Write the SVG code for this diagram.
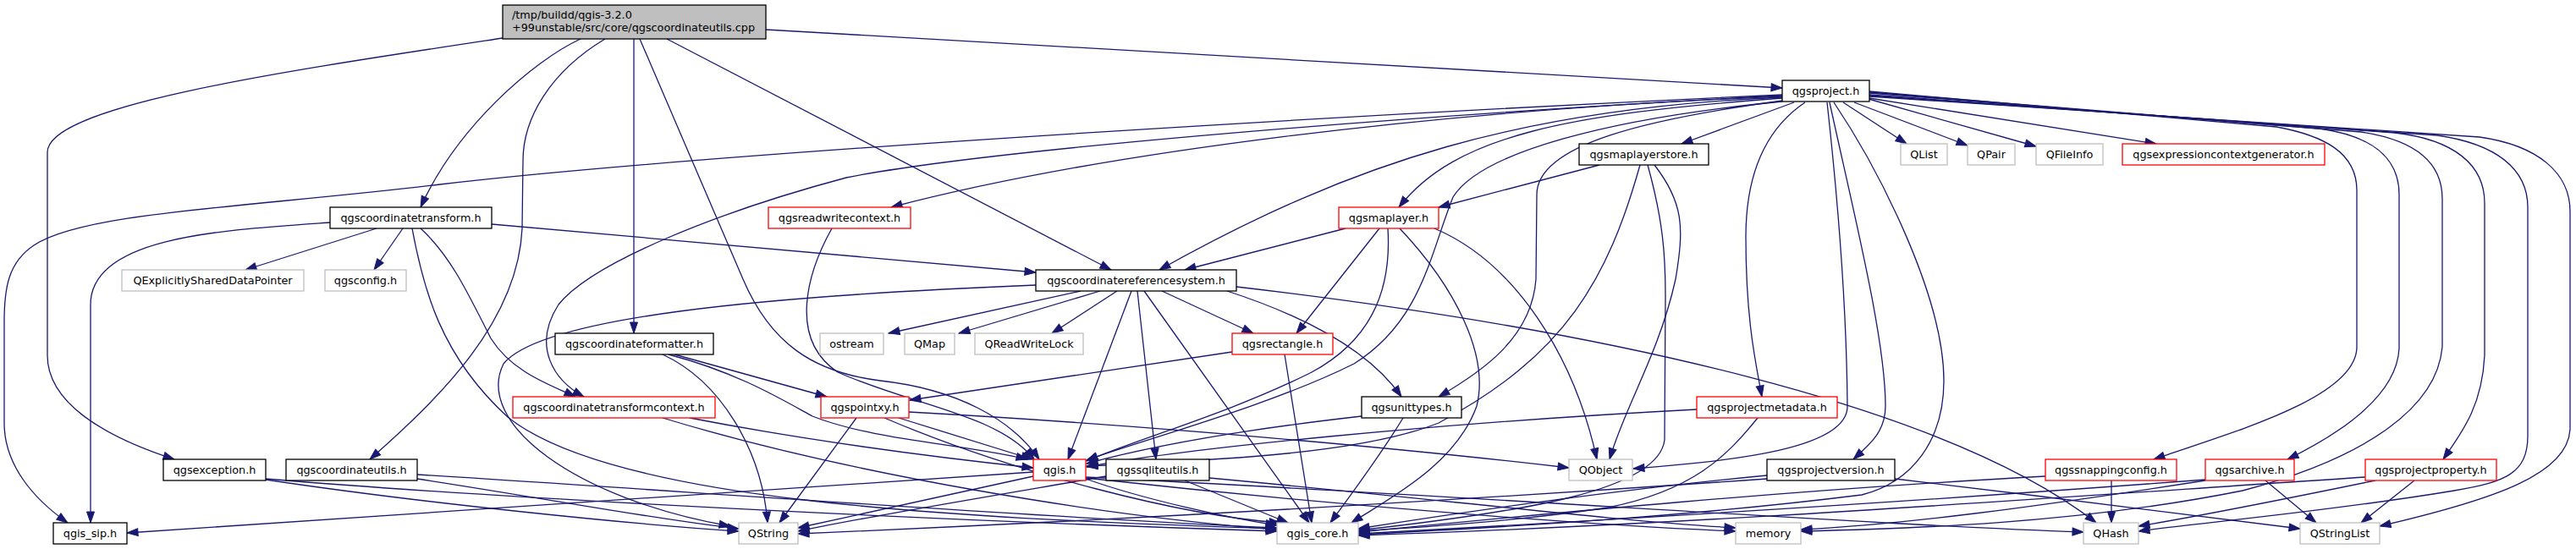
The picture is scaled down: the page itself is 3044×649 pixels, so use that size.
<svg xmlns="http://www.w3.org/2000/svg" width="3044" height="649" viewBox="0 0 3044 649">
<style>
rect{fill:#fff;stroke:#000;stroke-width:1.3}
.r rect{stroke:#ff0000}
.g rect{stroke:#bfbfbf}
#root rect{fill:#bfbfbf;stroke:#000}
text{font-family:"DejaVu Sans",sans-serif;font-size:12.8px;text-anchor:middle;fill:#000}
#root text{text-anchor:start}
#edges path{fill:none;stroke:#191970;stroke-width:1.3;marker-end:url(#ah)}
</style>
<defs>
<marker id="ah" viewBox="0 0 13 9" refX="13" refY="4.5" markerWidth="13" markerHeight="9" markerUnits="userSpaceOnUse" orient="auto" style="overflow:visible"><path d="M0,0L13,4.5L0,9z" fill="#191970" stroke="#191970" stroke-width="1"/></marker>
</defs>
<rect x="0" y="0" width="3044" height="649" style="fill:#fff;stroke:none"/>
<g id="edges">
<path d="M594,45 C330,85 56,125 56,180 L56,420 C56,475 120,515 206,543"/>
<path d="M686,46 C630,72 540,150 497,245"/>
<path d="M715,46 C650,85 618,140 618,190 L617,270 C612,380 520,470 437,543"/>
<path d="M749,46 L749,394"/>
<path d="M756,46 L878,330 C910,405 960,440 1040,450 C1130,460 1195,495 1228,543"/>
<path d="M788,46 L1313,319"/>
<path d="M905,35 L2106,104"/>
<path d="M445,270 L290,319"/>
<path d="M476,270 L442,319"/>
<path d="M390,263 C260,272 107,280 107,360 L107,618"/>
<path d="M487,270 C500,340 520,420 600,493 C720,590 1100,612 1509,625"/>
<path d="M497,270 C530,300 550,340 580,400 C605,440 650,455 680,469"/>
<path d="M581,265 L1224,322"/>
<path d="M493,561 C800,580 1200,610 1509,624"/>
<path d="M493,566 C650,590 780,615 873,625"/>
<path d="M314,567 C500,595 750,620 873,628"/>
<path d="M314,566 C600,590 1100,615 1509,628"/>
<path d="M797,419 L977,469"/>
<path d="M783,419 C850,450 900,530 907,618"/>
<path d="M790,419 C870,440 920,470 960,492 C1030,520 1140,525 1214,543"/>
<path d="M815,494 C950,520 1100,540 1221,553"/>
<path d="M783,494 C1000,560 1300,610 1509,626"/>
<path d="M1012,494 L921,618"/>
<path d="M1045,494 C1200,560 1400,610 1513,618"/>
<path d="M1062,494 L1220,543"/>
<path d="M1074,487 C1400,505 1700,535 1854,553"/>
<path d="M1277,344 L1050,394"/>
<path d="M1300,344 L1133,394"/>
<path d="M1320,344 L1243,394"/>
<path d="M1373,344 L1481,394"/>
<path d="M1337,344 L1262,543"/>
<path d="M1344,344 L1366,543"/>
<path d="M1352,344 L1547,618"/>
<path d="M1450,344 C1530,370 1615,410 1656,469"/>
<path d="M1461,339 C1900,390 2300,480 2477,618"/>
<path d="M1224,337 C900,350 640,375 595,430 C560,500 680,590 863,622"/>
<path d="M1456,416 L1075,473"/>
<path d="M1518,419 L1550,618"/>
<path d="M1590,270 L1400,319"/>
<path d="M1630,270 L1532,394"/>
<path d="M1640,270 C1645,350 1615,405 1550,440 C1450,490 1340,520 1284,545"/>
<path d="M1654,270 C1720,340 1760,420 1745,480 C1720,550 1640,590 1597,618"/>
<path d="M1695,270 C1790,310 1860,420 1887,543"/>
<path d="M1890,195 L1700,245"/>
<path d="M1938,195 C1900,330 1850,420 1700,500 C1600,540 1400,545 1284,551"/>
<path d="M1955,195 C1990,240 1990,270 1980,330 C1960,420 1920,480 1902,543"/>
<path d="M1947,195 C1965,260 1968,300 1968,350 L1967,520 C1960,580 1800,605 1605,627"/>
<path d="M2106,112 C1500,140 800,185 520,218 C300,245 100,250 40,290 C10,310 5,340 5,380 L5,500 C5,550 40,590 80,618"/>
<path d="M2106,113 C1600,140 1150,180 1000,210 C850,250 700,310 660,360 C628,410 655,450 690,469"/>
<path d="M2106,114 C1700,130 1300,180 1053,245"/>
<path d="M2106,115 C1800,128 1600,190 1370,319"/>
<path d="M2106,116 C1850,135 1720,160 1653,245"/>
<path d="M2120,121 L1987,170"/>
<path d="M2106,120 C1900,140 1750,180 1717,233 C1690,300 1680,380 1600,430 C1500,480 1350,520 1284,544"/>
<path d="M2106,119 C1950,140 1816,170 1816,230 L1815,330 C1810,400 1750,440 1700,469"/>
<path d="M2133,121 C2090,150 2063,200 2063,280 C2063,380 2075,430 2082,469"/>
<path d="M2159,121 C2170,220 2182,350 2183,480 C2184,530 2050,545 1930,554"/>
<path d="M2162,121 C2190,250 2228,400 2228,480 C2228,510 2210,525 2190,543"/>
<path d="M2167,121 C2220,200 2297,350 2297,450 C2297,520 2260,570 2200,585 C2000,610 1800,622 1605,632"/>
<path d="M2178,121 L2253,170"/>
<path d="M2191,121 L2325,172"/>
<path d="M2208,117 L2406,173"/>
<path d="M2209,116 L2548,170"/>
<path d="M2209,108 L2690,150 C2745,160 2785,180 2785,225 L2785,410 C2785,470 2640,510 2545,543"/>
<path d="M2209,109 L2740,152 C2800,160 2835,185 2835,230 L2835,412 C2832,470 2760,515 2703,543"/>
<path d="M2209,110 L2790,156 C2850,165 2886,190 2886,235 L2886,410 C2880,480 2800,540 2650,580 C2450,620 2250,625 2128,628"/>
<path d="M2209,112 L2830,157 C2900,165 2936,195 2936,240 L2936,420 C2933,480 2910,510 2887,543"/>
<path d="M2209,113 L2880,160 C2950,170 2987,200 2987,245 L2987,515 C2987,560 2960,570 2900,580 C2750,605 2600,618 2527,628"/>
<path d="M2209,114 L2930,162 C3000,172 3037,205 3037,250 L3037,507 C3035,560 2950,590 2812,622"/>
<path d="M983,270 C955,320 930,400 990,440 C1080,480 1180,490 1222,543"/>
<path d="M1221,558 L150,630"/>
<path d="M1221,563 C1100,590 1000,612 943,624"/>
<path d="M1283,566 C1350,590 1450,612 1509,621"/>
<path d="M1283,565 C1600,600 1900,622 2051,628"/>
<path d="M1283,564 C1800,590 2200,620 2462,629"/>
<path d="M1307,563 C1150,590 1000,615 943,628"/>
<path d="M1400,568 L1522,618"/>
<path d="M1429,565 C1700,590 1900,615 2051,624"/>
<path d="M1609,492 C1450,510 1350,530 1284,548"/>
<path d="M1658,494 C1630,540 1600,580 1572,618"/>
<path d="M2005,484 C1700,500 1400,530 1284,552"/>
<path d="M2077,494 C2040,540 2000,580 1900,600 C1800,615 1700,622 1605,628"/>
<path d="M2088,562 C1900,580 1700,610 1605,625"/>
<path d="M2088,566 C1600,600 1200,620 943,631"/>
<path d="M2239,566 C2400,585 2600,610 2718,625"/>
<path d="M2495,568 L2495,618"/>
<path d="M2417,563 C2100,580 1800,610 1605,629"/>
<path d="M2606,567 C2300,590 1900,615 1605,631"/>
<path d="M2606,568 C2400,600 2250,620 2128,626"/>
<path d="M2677,568 L2737,618"/>
<path d="M2795,564 C2400,590 2000,620 1605,633"/>
<path d="M2807,568 C2700,590 2600,610 2527,622"/>
<path d="M2853,568 L2790,618"/>
</g>
<g id="root"><rect x="594" y="6" width="311" height="40"/><text x="605" y="21.5">/tmp/buildd/qgis-3.2.0</text><text x="605" y="37">+99unstable/src/core/qgscoordinateutils.cpp</text></g>
<g id="n_proj"><rect x="2106" y="95" width="103" height="25"/><text x="2157.5" y="112">qgsproject.h</text></g>
<g id="n_mls"><rect x="1866" y="170" width="153" height="25"/><text x="1942.5" y="187">qgsmaplayerstore.h</text></g>
<g id="n_qlist" class="g"><rect x="2246" y="170" width="55" height="25"/><text x="2273.5" y="187">QList</text></g>
<g id="n_qpair" class="g"><rect x="2325" y="170" width="56" height="25"/><text x="2353" y="187">QPair</text></g>
<g id="n_qfi" class="g"><rect x="2406" y="170" width="79" height="25"/><text x="2445.5" y="187">QFileInfo</text></g>
<g id="n_expr" class="r"><rect x="2508" y="170" width="239" height="25"/><text x="2627.5" y="187">qgsexpressioncontextgenerator.h</text></g>
<g id="n_ct"><rect x="390" y="245" width="191" height="25"/><text x="485.5" y="262">qgscoordinatetransform.h</text></g>
<g id="n_rwc" class="r"><rect x="908" y="245" width="168" height="25"/><text x="992" y="262">qgsreadwritecontext.h</text></g>
<g id="n_ml" class="r"><rect x="1582" y="245" width="118" height="25"/><text x="1641" y="262">qgsmaplayer.h</text></g>
<g id="n_qesdp" class="g"><rect x="144" y="319" width="215" height="25"/><text x="251.5" y="336">QExplicitlySharedDataPointer</text></g>
<g id="n_cfg" class="g"><rect x="384" y="319" width="96" height="25"/><text x="432" y="336">qgsconfig.h</text></g>
<g id="n_crs"><rect x="1224" y="319" width="237" height="25"/><text x="1342.5" y="336">qgscoordinatereferencesystem.h</text></g>
<g id="n_cf"><rect x="656" y="394" width="187" height="25"/><text x="749.5" y="411">qgscoordinateformatter.h</text></g>
<g id="n_ostream" class="g"><rect x="969" y="394" width="75" height="25"/><text x="1006.5" y="411">ostream</text></g>
<g id="n_qmap" class="g"><rect x="1069" y="394" width="59" height="25"/><text x="1098.5" y="411">QMap</text></g>
<g id="n_qrwl" class="g"><rect x="1152" y="394" width="128" height="25"/><text x="1216" y="411">QReadWriteLock</text></g>
<g id="n_rect" class="r"><rect x="1456" y="394" width="119" height="25"/><text x="1515.5" y="411">qgsrectangle.h</text></g>
<g id="n_ctc" class="r"><rect x="606" y="469" width="239" height="25"/><text x="725.5" y="486">qgscoordinatetransformcontext.h</text></g>
<g id="n_pxy" class="r"><rect x="970" y="469" width="104" height="25"/><text x="1022" y="486">qgspointxy.h</text></g>
<g id="n_ut"><rect x="1609" y="469" width="118" height="25"/><text x="1668" y="486">qgsunittypes.h</text></g>
<g id="n_pm" class="r"><rect x="2005" y="469" width="166" height="25"/><text x="2088" y="486">qgsprojectmetadata.h</text></g>
<g id="n_exc"><rect x="193" y="543" width="121" height="25"/><text x="253.5" y="560">qgsexception.h</text></g>
<g id="n_cu"><rect x="338" y="543" width="155" height="25"/><text x="415.5" y="560">qgscoordinateutils.h</text></g>
<g id="n_qgis" class="r"><rect x="1221" y="543" width="62" height="25"/><text x="1252" y="560">qgis.h</text></g>
<g id="n_sql"><rect x="1307" y="543" width="122" height="25"/><text x="1368" y="560">qgssqliteutils.h</text></g>
<g id="n_qobj" class="g"><rect x="1854" y="543" width="75" height="25"/><text x="1891.5" y="560">QObject</text></g>
<g id="n_pv"><rect x="2088" y="543" width="151" height="25"/><text x="2163.5" y="560">qgsprojectversion.h</text></g>
<g id="n_snap" class="r"><rect x="2417" y="543" width="155" height="25"/><text x="2494.5" y="560">qgssnappingconfig.h</text></g>
<g id="n_arch" class="r"><rect x="2606" y="543" width="105" height="25"/><text x="2658.5" y="560">qgsarchive.h</text></g>
<g id="n_pp" class="r"><rect x="2795" y="543" width="155" height="25"/><text x="2872.5" y="560">qgsprojectproperty.h</text></g>
<g id="n_sip"><rect x="63" y="618" width="87" height="25"/><text x="106.5" y="635">qgis_sip.h</text></g>
<g id="n_qstring" class="g"><rect x="873" y="618" width="70" height="25"/><text x="908" y="635">QString</text></g>
<g id="n_core" class="g"><rect x="1509" y="618" width="96" height="25"/><text x="1557" y="635">qgis_core.h</text></g>
<g id="n_memory" class="g"><rect x="2051" y="618" width="77" height="25"/><text x="2089.5" y="635">memory</text></g>
<g id="n_qhash" class="g"><rect x="2462" y="618" width="65" height="25"/><text x="2494.5" y="635">QHash</text></g>
<g id="n_qsl" class="g"><rect x="2718" y="618" width="94" height="25"/><text x="2765" y="635">QStringList</text></g>
</svg>
